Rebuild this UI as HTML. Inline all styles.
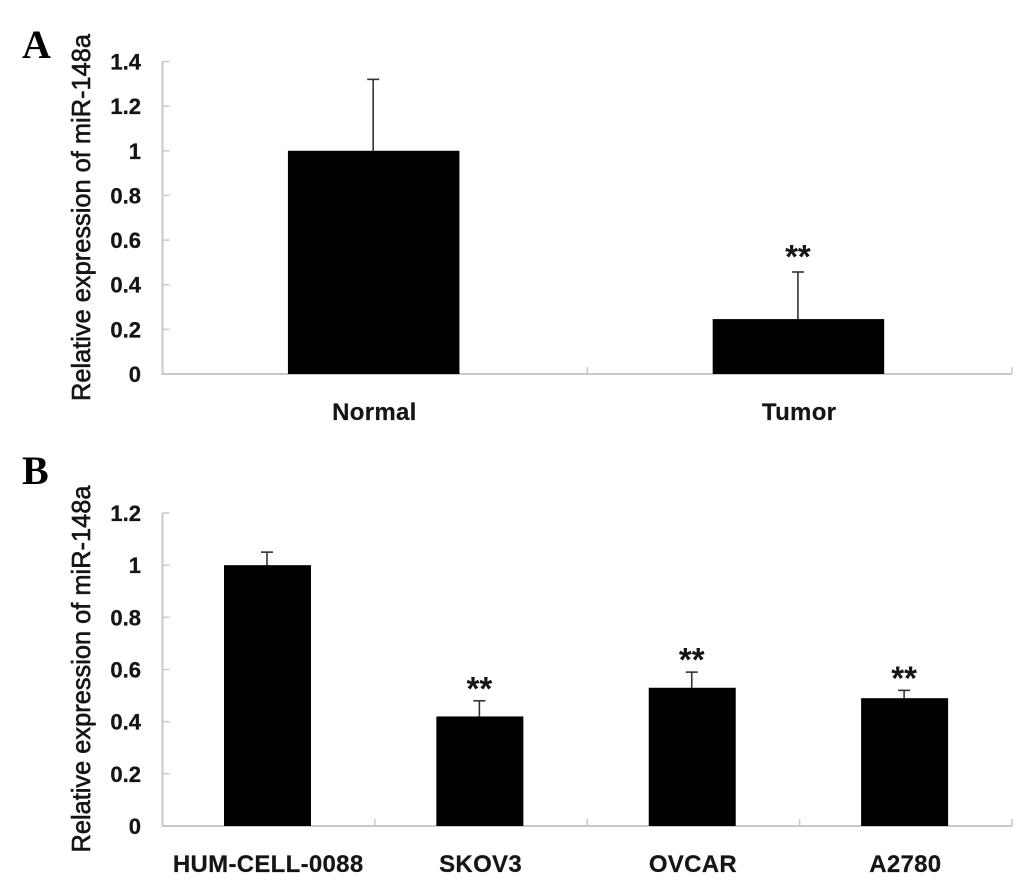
<!DOCTYPE html>
<html lang="en">
<head>
<meta charset="utf-8">
<title>Relative expression of miR-148a</title>
<style>
html,body{margin:0;padding:0;background:#fff;width:1033px;height:882px;overflow:hidden}
svg{display:block;position:absolute;left:0;top:0;filter:blur(0.35px)}
text{font-family:"Liberation Sans",Arial,sans-serif;font-weight:bold;fill:#151515}
.panel-letter{font-family:"Liberation Serif","Times New Roman",serif;font-size:40px;fill:#000}
.axis-title{font-weight:normal;stroke:#151515;stroke-width:0.6px}
.tick-label{stroke:#151515;stroke-width:0.3px}
.category-label{letter-spacing:0.3px;stroke:#151515;stroke-width:0.2px}
</style>
</head>
<body>
<svg id="figure" width="1033" height="882" viewBox="0 0 1033 882" xmlns="http://www.w3.org/2000/svg">
  <text class="panel-letter" x="22" y="58">A</text>
  <text class="panel-letter" x="22" y="484">B</text>
  <g id="panel-a"></g>
  <g id="panel-b"></g>
</svg>
<script>
const categoriesA = ["Normal", "Tumor"];
const valuesA = [1.0, 0.246];
const errorsA = [0.32, 0.211];
const significanceA = ["", "**"];
const ticksA = [0, 0.2, 0.4, 0.6, 0.8, 1, 1.2, 1.4];

const categoriesB = ["HUM-CELL-0088", "SKOV3", "OVCAR", "A2780"];
const valuesB = [1.0, 0.42, 0.53, 0.49];
const errorsB = [0.05, 0.06, 0.06, 0.03];
const significanceB = ["", "**", "**", "**"];
const ticksB = [0, 0.2, 0.4, 0.6, 0.8, 1, 1.2];

const yAxisTitle = "Relative expression of miR-148a";
const SVG_NS = "http://www.w3.org/2000/svg";

function make(parent, tag, props, content) {
  const el = document.createElementNS(SVG_NS, tag);
  for (const key in props) el.setAttribute(key, props[key]);
  if (content !== undefined) el.textContent = content;
  parent.appendChild(el);
  return el;
}

function drawPanel(cfg) {
  const g = document.getElementById(cfg.id);
  const x0 = 162.5, x1 = 1012;
  const yMax = cfg.ticks[cfg.ticks.length - 1];
  const yScale = v => cfg.yBottom - (v / yMax) * (cfg.yBottom - cfg.yTop);
  const band = (x1 - x0) / cfg.categories.length;
  const xCenter = i => x0 + band * (i + 0.5) - 1.2;
  const axisColor = "#c9c9c9";

  const yAxis = make(g, "line", {x1: x0, x2: x0, y1: yScale(yMax), y2: cfg.yBottom, stroke: axisColor, "stroke-width": 2});
  
  

  const xAxis = make(g, "line", {x1: x0 - 1, x2: x1, y1: cfg.yBottom, y2: cfg.yBottom, stroke: axisColor, "stroke-width": 2});
  
  

  cfg.ticks.forEach(t => {
    const y = yScale(t);
    const tick = make(g, "line", {x1: x0, x2: x0 + 7, y1: y, y2: y, stroke: axisColor, "stroke-width": 1.5});
    
    
    const label = make(g, "text", {class: "tick-label", x: 141, y: y + 8, "text-anchor": "end", "font-size": 22}, String(t));
    
    
  });

  for (let i = 1; i <= cfg.categories.length; i++) {
    const x = x0 + band * i;
    const tick = make(g, "line", {x1: x, x2: x, y1: cfg.yBottom, y2: cfg.yBottom - 7, stroke: axisColor, "stroke-width": 1.5});
    
    
  }

  cfg.categories.forEach((name, i) => {
    const cx = xCenter(i);
    const top = yScale(cfg.values[i]);
    const errTop = yScale(cfg.values[i] + cfg.errors[i]);

    const errLine = make(g, "line", {x1: cx - 0.5, x2: cx - 0.5, y1: errTop, y2: top, stroke: "#333", "stroke-width": 1.6});
    
    

    const errCap = make(g, "line", {x1: cx - 6.5, x2: cx + 5.5, y1: errTop, y2: errTop, stroke: "#333", "stroke-width": 1.6});
    
    

    const bar = make(g, "rect", {x: cx - cfg.barWidth / 2, y: top, width: cfg.barWidth, height: cfg.yBottom - top, fill: "#000"});
    
    

    const label = make(g, "text", {class: "category-label", x: cx + 0.7, y: cfg.labelY, "text-anchor": "middle", "font-size": 24}, name);
    
    

    if (cfg.significance[i]) {
      const star = make(g, "text", {x: cx - 0.5, y: errTop - cfg.starGap, "text-anchor": "middle", "font-size": 33, fill: "#000"}, cfg.significance[i]);
      
      
    }
  });

  const titleX = 90;
  const title = make(g, "text", {
    class: "axis-title",
    x: titleX, y: cfg.titleY, "text-anchor": "middle", "font-size": 26,
    textLength: 367, lengthAdjust: "spacingAndGlyphs",
    transform: "rotate(-90 " + titleX + " " + cfg.titleY + ")"
  }, yAxisTitle);
  
  
}

drawPanel({
  id: "panel-a", categories: categoriesA, values: valuesA, errors: errorsA,
  significance: significanceA, ticks: ticksA,
  yTop: 61.5, yBottom: 374, barWidth: 171.5, labelY: 420, titleY: 217.5, starGap: 4
});
drawPanel({
  id: "panel-b", categories: categoriesB, values: valuesB, errors: errorsB,
  significance: significanceB, ticks: ticksB,
  yTop: 513, yBottom: 826, barWidth: 87, labelY: 872, titleY: 669, starGap: 1
});
</script>
</body>
</html>
